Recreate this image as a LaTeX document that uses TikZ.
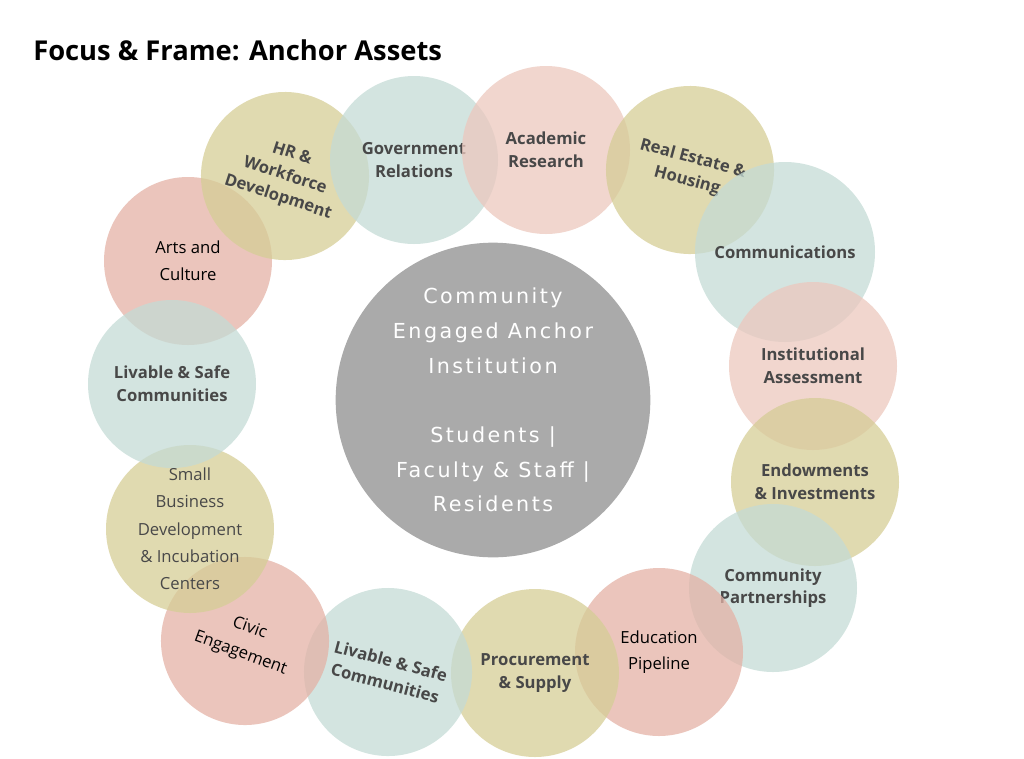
\documentclass[tikz,border=0pt]{standalone}
\usepackage{fontspec}
\setmainfont{Open Sans}
\newfontfamily\hubfont[LetterSpace=12]{DejaVu Sans}
\usepackage{tikz}
\definecolor{sage}{RGB}{196,219,213}
\definecolor{blush}{RGB}{236,200,190}
\definecolor{rose}{RGB}{228,178,166}
\definecolor{olive}{RGB}{214,205,150}
\definecolor{hub}{RGB}{170,170,170}
\definecolor{ink}{RGB}{72,72,72}
\tikzset{
    bubble/.style = {circle, fill=#1, fill opacity=0.75, text opacity=1,
        minimum size=126pt, inner sep=0pt, align=center, text=ink,
        font=\fontsize{12.5}{17}\selectfont\bfseries},
    plain/.style = {text=black, font=\fontsize{12.5}{20}\selectfont},
}
\begin{document}
\begin{tikzpicture}[x=0.75pt,y=-0.75pt]
\useasboundingbox (0,0) rectangle (1024,758);
\node[anchor=west, inner sep=0pt, font=\fontsize{20.5}{24}\selectfont\bfseries] (title) at (33,50) {Focus \& Frame: Anchor Assets};

% ring of assets
\node[bubble=rose, plain] (arts) at (188,261) {Arts and\\Culture};
\node[bubble=olive, rotate=-18] (hr) at (285,176) {HR \&\\Workforce\\Development};
\node[bubble=sage] (gov) at (414,160) {Government\\Relations};
\node[bubble=blush] (acad) at (546,150) {Academic\\Research};
\node[bubble=olive, rotate=-15] (estate) at (690,170) {Real Estate \&\\Housing};
\node[bubble=sage, minimum size=135pt] (comm) at (785,252) {Communications};
\node[bubble=blush] (assess) at (813,366) {Institutional\\Assessment};
\node[bubble=olive] (endow) at (815,482) {Endowments\\\& Investments};
\node[bubble=sage] (partner) at (773,588) {Community\\Partnerships};
\node[bubble=rose, plain] (edu) at (659,652) {Education\\Pipeline};
\node[bubble=olive] (proc) at (535,673) {Procurement\\\& Supply};
\node[bubble=sage, rotate=-15] (livebot) at (388,672) {Livable \& Safe\\Communities};
\node[bubble=rose, plain, rotate=-20] (civic) at (245,641) {Civic\\Engagement};
\node[bubble=olive, font=\fontsize{12.5}{20.5}\selectfont] (small) at (190,529) {Small\\Business\\Development\\\& Incubation\\Centers};
\node[bubble=sage] (liveleft) at (172,384) {Livable \& Safe\\Communities};

% hub
\node[circle, fill=hub, minimum size=236pt, align=center, text=white,
      font=\hubfont\fontsize{15.5}{26}\selectfont] (hubnode) at (493,400)
      {Community\\Engaged Anchor\\Institution\\[26pt]Students |\\Faculty \& Staff |\\Residents};
\end{tikzpicture}
\end{document}
